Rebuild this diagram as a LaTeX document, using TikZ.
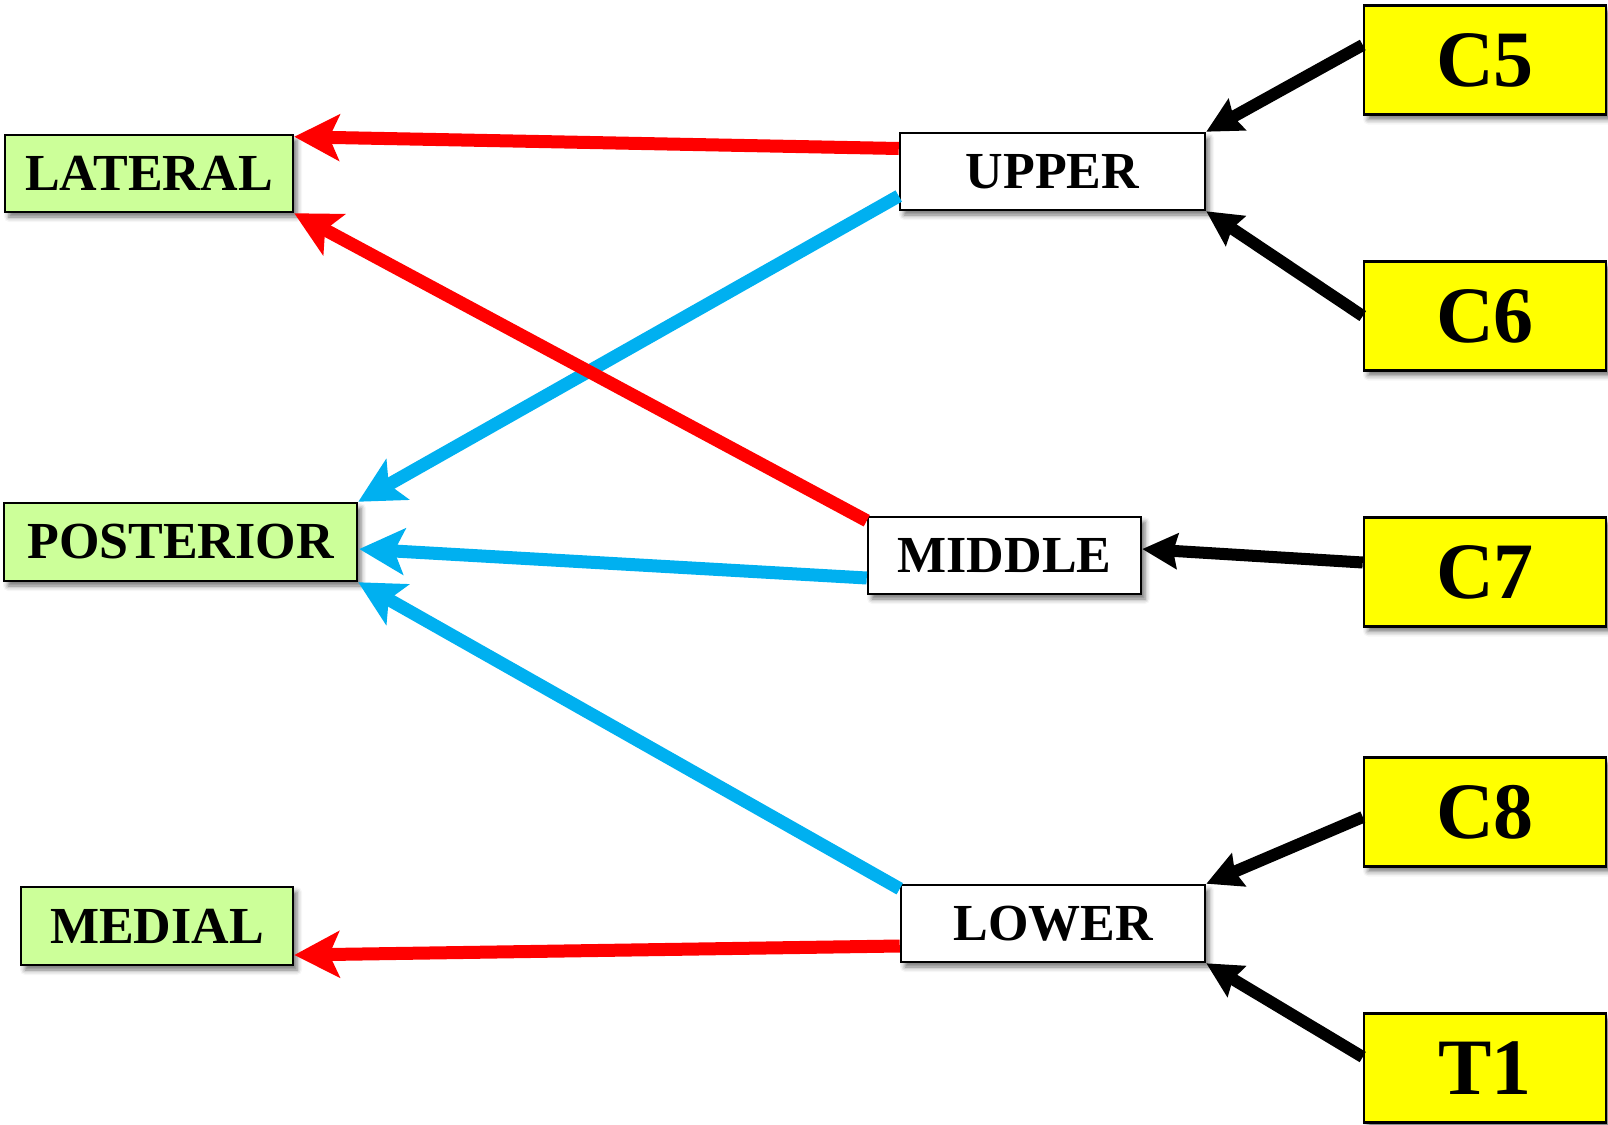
\documentclass[tikz,border=0pt]{standalone}
\usepackage{fontspec}
\setmainfont{Liberation Serif}
\usetikzlibrary{arrows.meta,shadows.blur,calc}
\definecolor{boxgreen}{HTML}{CCFF99}
\definecolor{arrblue}{HTML}{00B0F0}
\definecolor{boxyellow}{HTML}{FFFF00}
\begin{document}
\begin{tikzpicture}[x=1pt,y=-1pt,
  basebox/.style={draw=black, line width=2.5pt, inner sep=0pt, align=center,
    blur shadow={shadow xshift=4pt, shadow yshift=-5pt, shadow blur radius=5pt, shadow opacity=55}},
  sidebox/.style={basebox, fill=boxgreen, minimum height=77pt, font=\bfseries\fontsize{52}{60}\selectfont},
  levelbox/.style={basebox, fill=white, minimum height=77pt, font=\bfseries\fontsize{52}{60}\selectfont},
  rootbox/.style={basebox, fill=boxyellow, minimum width=242pt, minimum height=109pt, font=\bfseries\fontsize{80}{90}\selectfont},
  redarr/.style={draw=red, line width=13pt, -{Stealth[length=45pt,width=46pt,inset=10pt]}},
  bluearr/.style={draw=arrblue, line width=13pt, -{Stealth[length=45pt,width=46pt,inset=10pt]}},
  blackarr/.style={draw=black, line width=12pt, -{Stealth[length=35pt,width=35pt,inset=4pt]}}
]
\useasboundingbox (0,0) rectangle (1608,1124);

% target (left) boxes
\node[sidebox, minimum width=288pt] (lat) at (149,173.5) {LATERAL};
\node[sidebox, minimum width=353pt, minimum height=78pt] (post) at (180.5,542) {POSTERIOR};
\node[sidebox, minimum width=272pt, minimum height=78pt] (med) at (157,926) {MEDIAL};

% trunk boxes
\node[levelbox, minimum width=305pt] (up) at (1052.5,171.5) {UPPER};
\node[levelbox, minimum width=273pt] (mid) at (1004.5,555.5) {MIDDLE};
\node[levelbox, minimum width=304pt] (low) at (1053,923.5) {LOWER};

% root boxes
\node[rootbox] (c5) at (1485,60) {C5};
\node[rootbox] (c6) at (1485,316) {C6};
\node[rootbox] (c7) at (1485,572) {C7};
\node[rootbox] (c8) at (1485,812) {C8};
\node[rootbox] (t1) at (1485,1068) {T1};

% connection points
\coordinate (upR) at ($(up.west)+(0,-23)$);
\coordinate (upB) at ($(up.west)+(0,24.5)$);
\coordinate (midR) at ($(mid.north west)+(0,5)$);
\coordinate (midB) at ($(mid.west)+(0,22.5)$);
\coordinate (lowB) at ($(low.north west)+(0,5)$);
\coordinate (lowR) at ($(low.west)+(0,22.5)$);
\coordinate (latT) at ($(lat.north east)+(0,3)$);
\coordinate (latB) at (lat.south east);
\coordinate (postT) at (post.north east);
\coordinate (postM) at ($(post.east)+(1,7)$);
\coordinate (postB) at (post.south east);
\coordinate (medE) at ($(med.east)+(0,29)$);
\coordinate (c5o) at ($(c5.west)+(0,-15)$);
\coordinate (c6o) at (c6.west);
\coordinate (c7o) at ($(c7.west)+(0,-9.5)$);
\coordinate (midE) at ($(mid.east)+(0,-6.5)$);
\coordinate (c8o) at ($(c8.west)+(0,5)$);
\coordinate (t1o) at ($(t1.west)+(0,-11)$);

% blue connectors
\draw[bluearr] (upB) -- (postT);
\draw[bluearr] (midB) -- (postM);
\draw[bluearr] (lowB) -- (postB);
% red connectors
\draw[redarr] (upR) -- (latT);
\draw[redarr] (midR) -- (latB);
\draw[redarr] (lowR) -- (medE);
% black connectors
\draw[blackarr] (c5o) -- (up.north east);
\draw[blackarr] (c6o) -- (up.south east);
\draw[blackarr] (c7o) -- (midE);
\draw[blackarr] (c8o) -- (low.north east);
\draw[blackarr] (t1o) -- (low.south east);
\end{tikzpicture}
\end{document}
